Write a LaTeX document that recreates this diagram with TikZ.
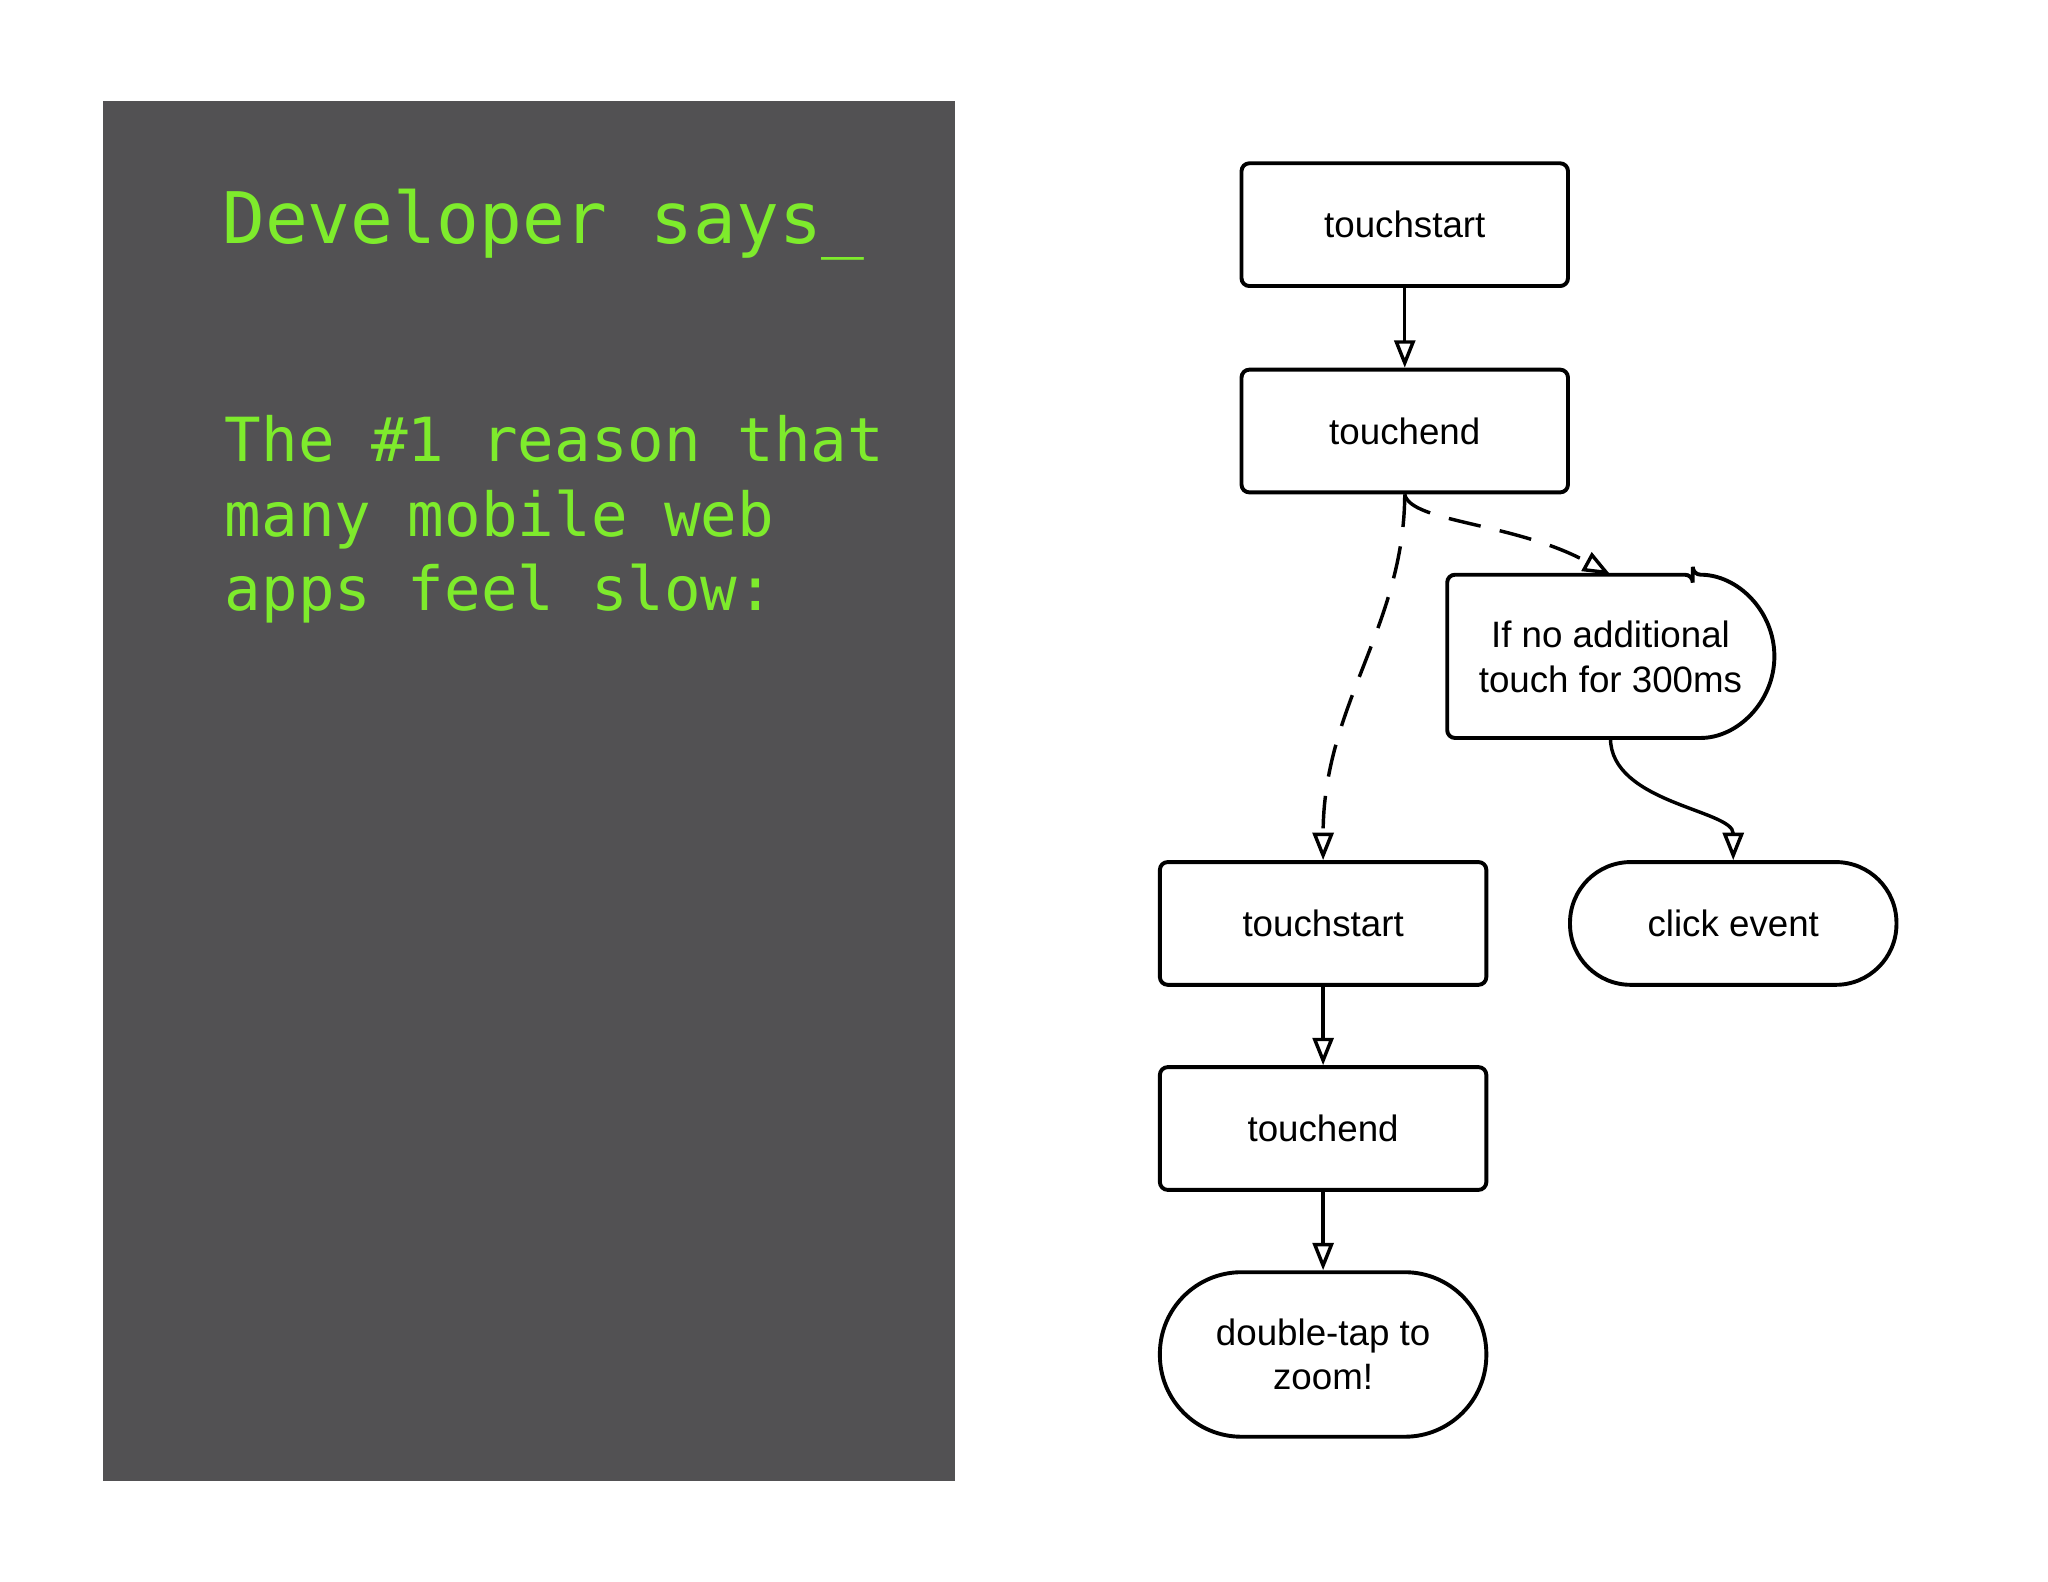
\documentclass[tikz,border=0pt]{standalone}
\usepackage{fontspec}
\setmainfont{Liberation Sans}
\newfontfamily\monof{DejaVu Sans Mono}
\usetikzlibrary{arrows.meta}
\definecolor{panel}{HTML}{525153}
\definecolor{termgreen}{HTML}{7EEB2C}
\begin{document}
\begin{tikzpicture}[x=0.02cm,y=-0.02cm,
  box/.style={draw,line width=1.7pt,rounded corners=0.12cm,minimum width=5cm,minimum height=1.88cm,font=\fontsize{16}{19}\selectfont,align=center},
  pill/.style={box,rounded corners=0.93cm},
  conn/.style={line width=1.5pt,-{Triangle[open,length=0.42cm,width=0.32cm,line width=1.5pt]}},
  dconn/.style={conn,dash pattern=on 0.5cm off 0.3cm}]
\useasboundingbox (0,0) rectangle (1568,1211);
\fill[panel] (79,77) rectangle (731,1134);
\node[anchor=west,text=termgreen,font=\monof\fontsize{31}{36}\selectfont] (title) at (164,172) {Developer says\_};
\node[anchor=north west,text=termgreen,font=\monof\fontsize{26.5}{32.5}\selectfont,align=left] (body) at (166,312) {The \#1 reason that\\many mobile web\\apps feel slow:};
\node[box] (ts1) at (1075.5,172) {touchstart};
\node[box] (te1) at (1075.5,330) {touchend};
\node[box] (ts2) at (1013,707) {touchstart};
\node[pill] (click) at (1327,707) {click event};
\node[box] (te2) at (1013,864) {touchend};
\node[pill,minimum height=2.52cm,rounded corners=1.25cm] (dt) at (1013,1037) {double-tap to\\zoom!};
\draw[line width=1.7pt,rounded corners=0.12cm] (1296,440) -- (1108,440) -- (1108,565) -- (1296,565) arc[start angle=90,end angle=-90,radius=62.5] -- cycle;
\node[font=\fontsize{16}{19.5}\selectfont,align=center] (ifno) at (1233,503) {If no additional\\touch for 300ms};
\coordinate (ifT) at (1233,440);
\coordinate (ifB) at (1233,565);
\draw[conn] (ts1.south) -- (te1.north);
\draw[conn] (ts2.south) -- (te2.north);
\draw[conn] (te2.south) -- (dt.north);
\draw[dconn] (te1.south) .. controls (1075,480) and (1013,540) .. (ts2.north);
\draw[dconn] (te1.south) .. controls (1080,400) and (1160,400) .. (ifT);
\draw[conn] (ifB) .. controls (1233,615) and (1327,620) .. (click.north);
\end{tikzpicture}
\end{document}
